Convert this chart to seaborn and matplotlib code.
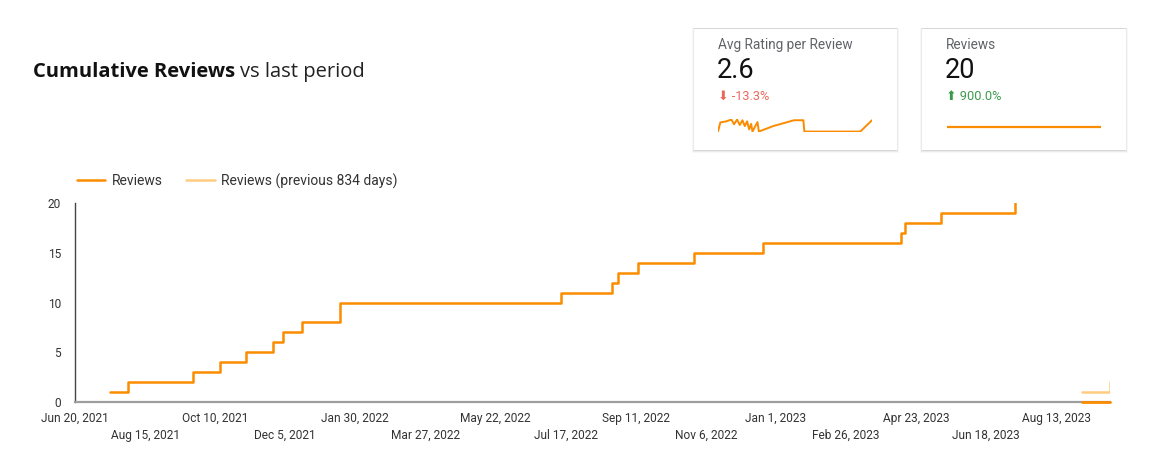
import pandas as pd
import numpy as np
import matplotlib.pyplot as plt
import seaborn as sns
from matplotlib.patches import FancyBboxPatch

sns.set_style('white')
plt.rcParams['font.family'] = ['Roboto', 'DejaVu Sans']

# data
review_dates = ['2021-07-18', '2021-08-01', '2021-09-22', '2021-10-14', '2021-11-04',
                '2021-11-25', '2021-12-03', '2021-12-18', '2022-01-18', '2022-07-13',
                '2022-08-23', '2022-08-28', '2022-09-13', '2022-10-28', '2022-12-22',
                '2023-04-11', '2023-04-14', '2023-05-13', '2023-07-11']
cumulative_reviews = [1, 2, 3, 4, 5, 6, 7, 8, 10, 11, 12, 13, 14, 15, 16, 17, 18, 19, 20]

# short tail at the right edge of the chart
tail_dates = ['2023-09-03', '2023-09-24', '2023-09-25']
tail_current = [0, 0, 0]
tail_previous = [1, 1, 2]

x_start = '2021-06-20'
x_end = '2023-09-25'

# kpi cards
kpi_titles = ['Avg Rating per Review', 'Reviews']
kpi_values = ['2.6', '20']
kpi_changes = ['\u2b07 -13.3%', '\u2b06 900.0%']
kpi_colors = ['#e8695b', '#3a9a4b']

spark_rating_x = [0, 7, 25, 40, 48, 57, 65, 73, 80, 87, 93, 99, 103, 112, 118, 122,
                  165, 227, 255, 258, 425, 460]
spark_rating = [2.0, 2.625, 2.7, 2.825, 2.5, 2.825, 2.45, 2.775, 2.375, 2.7, 2.15, 2.525,
                2.0, 2.4, 2.65, 2.0, 2.375, 2.775, 2.775, 2.0, 2.0, 2.775]
spark_reviews_x = [0, 150, 300, 460]
spark_reviews = [20, 20, 20, 20]

ORANGE = '#fb8c00'
LIGHT_ORANGE = '#ffcc80'
W, H = 1151, 465


def fx(x):
    return x / W


def fy(y):
    return 1 - y / H


fig = plt.figure(figsize=(W / 100, H / 100), dpi=100)

# main chart
ax = fig.add_axes([fx(75), fy(402), (1110 - 75) / W, (402 - 203) / H])

df = pd.DataFrame({'date': pd.to_datetime(review_dates), 'reviews': cumulative_reviews})
tail = pd.DataFrame({'date': pd.to_datetime(tail_dates), 'cur': tail_current, 'prev': tail_previous})

sns.lineplot(data=df, x='date', y='reviews', ax=ax, color=ORANGE, lw=1.8,
             drawstyle='steps-post', label='Reviews')
sns.lineplot(data=tail, x='date', y='prev', ax=ax, color=LIGHT_ORANGE, lw=1.8,
             drawstyle='steps-post', label='Reviews (previous 834 days)')
sns.lineplot(data=tail, x='date', y='cur', ax=ax, color=ORANGE, lw=2.0,
             drawstyle='steps-post', legend=False, clip_on=False, zorder=5)

ax.set_xlim(pd.Timestamp(x_start), pd.Timestamp(x_end))
ax.set_ylim(0, 20)
ax.set_yticks([0, 5, 10, 15, 20])
ticks = pd.date_range(x_start, periods=15, freq='56D')
labels = []
for i, d in enumerate(ticks):
    s = f"{d.strftime('%b')} {d.day}, {d.year}"
    labels.append(s if i % 2 == 0 else '\n' + s)
ax.set_xticks(ticks)
ax.set_xticklabels(labels, linespacing=1.45)
ax.tick_params(axis='both', length=0, labelsize=8.6, labelcolor='#333333')
ax.tick_params(axis='x', pad=7)
ax.tick_params(axis='y', pad=10)
ax.set_xlabel('')
ax.set_ylabel('')
for s in ['top', 'right']:
    ax.spines[s].set_visible(False)
ax.spines['left'].set_color('#444444')
ax.spines['left'].set_linewidth(1.0)
ax.spines['bottom'].set_color('#9e9e9e')
ax.spines['bottom'].set_linewidth(1.6)
ax.grid(False)

ax.legend(loc='center left', bbox_to_anchor=(fx(77), fy(181)), bbox_transform=fig.transFigure,
          ncol=2, frameon=False, fontsize=10, handlelength=2.05, columnspacing=1.7,
          handletextpad=0.45, labelcolor='#333333', borderaxespad=0, borderpad=0)

# title
t1 = fig.text(fx(33), fy(72), 'Cumulative Reviews', fontsize=14.5, fontweight='bold',
              family='Open Sans', va='center', color='#111111')
fig.canvas.draw()
bb = t1.get_window_extent()
fig.text(bb.x1 / W + fx(5), fy(72), 'vs last period', fontsize=14.5, family='Open Sans',
         va='center', color='#222222')

# kpi cards
cards = [(694, 29, 897, 150), (922, 29, 1126, 150)]
for i, (x0, y0, x1, y1) in enumerate(cards):
    for k, a in [(3, 0.03), (2, 0.05), (1, 0.08)]:
        fig.patches.append(FancyBboxPatch((fx(x0 - k + 1), fy(y1 + k)), (x1 - x0 + 2 * k - 2) / W,
                                          (y1 - y0 + k + 1) / H, boxstyle='square,pad=0',
                                          transform=fig.transFigure, fc='black', ec='none', alpha=a,
                                          zorder=0))
    fig.patches.append(FancyBboxPatch((fx(x0), fy(y1)), (x1 - x0) / W, (y1 - y0) / H,
                                      boxstyle='square,pad=0', transform=fig.transFigure,
                                      fc='white', ec='none', zorder=1))
    tx = x0 + 24
    fig.text(fx(tx), fy(45), kpi_titles[i], fontsize=9.8, color='#5f6368', va='center', zorder=3)
    fig.text(fx(tx - 1), fy(70), kpi_values[i], fontsize=19.5, color='#111111', va='center', zorder=3)
    fig.text(fx(tx), fy(96), kpi_changes[i], fontsize=9.2, color=kpi_colors[i], va='center', zorder=3,
             family=['Roboto', 'DejaVu Sans'])

sp1 = fig.add_axes([fx(718), fy(132), (872 - 718) / W, 13 / H], zorder=4)
sns.lineplot(x=spark_rating_x, y=spark_rating, ax=sp1, color=ORANGE, lw=1.4)
sp1.set_xlim(min(spark_rating_x), max(spark_rating_x))
sp1.set_ylim(1.97, 2.86)
sp1.axis('off')

sp2 = fig.add_axes([fx(947), fy(134), (1101 - 947) / W, 14 / H], zorder=4)
sns.lineplot(x=spark_reviews_x, y=spark_reviews, ax=sp2, color=ORANGE, lw=1.6)
sp2.set_xlim(min(spark_reviews_x), max(spark_reviews_x))
sp2.set_ylim(0, 40)
sp2.axis('off')

fig.savefig('out.png', dpi=100)
